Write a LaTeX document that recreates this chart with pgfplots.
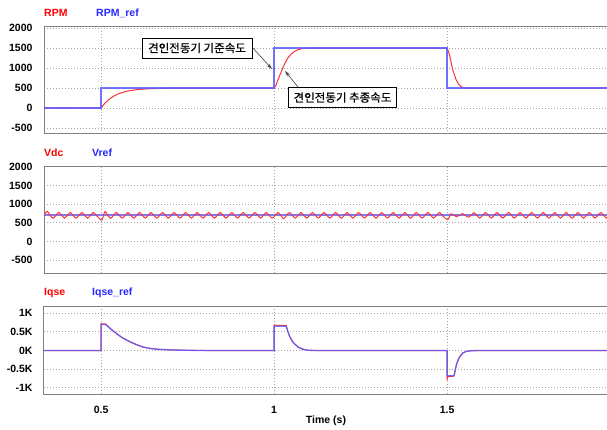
\documentclass[border=0pt]{standalone}
\usepackage{pgfplots}
\pgfplotsset{compat=1.18}
\usepackage{fontspec}
\setmainfont{Liberation Sans}
\newfontfamily\kr[FakeBold=0.6]{Noto Sans CJK KR}
\usetikzlibrary{arrows.meta}
\definecolor{cred}{RGB}{255,50,50}
\definecolor{cblue}{RGB}{90,90,255}
\definecolor{lred}{RGB}{255,0,0}
\definecolor{lblue}{RGB}{40,40,255}
\definecolor{framec}{RGB}{128,128,128}
\definecolor{gridc}{RGB}{165,165,165}
\pgfplotsset{
  panel/.style={
    scale only axis, width=564pt, xmin=0.335, xmax=1.965,
    axis line style={draw=framec, line width=1pt},
    grid=major, major grid style={draw=gridc, line width=0.8pt, dash pattern=on 1pt off 2pt},
    major tick length=0pt, tick style={draw=none},
    xtick={0.5,1,1.5},
    ticklabel style={font=\fontsize{10.5}{12}\selectfont\bfseries},
    yticklabel style={xshift=-8pt},
    xticklabel style={yshift=-8pt},
  }
}
\begin{document}
\begin{tikzpicture}
\useasboundingbox (0pt,0pt) rectangle (607pt,-430pt);
% ---------- top panel ----------
\begin{axis}[panel, at={(44pt,-26.7pt)}, anchor=north west, height=107.3pt,
  ymin=-650, ymax=2040, ytick={-500,0,500,1000,1500,2000},
  yticklabels={-500,0,500,1000,1500,2000}, xticklabels={}]
\addplot[cred, line width=1pt] coordinates {(0.335,0)(0.5,0)(0.51,111)(0.52,197)(0.53,264)(0.54,316)(0.55,357)(0.56,388)(0.58,432)(0.60,459)(0.62,475)(0.64,485)(0.66,491)(0.70,497)(0.75,500)(1.0,500)(1.005,560)(1.01,680)(1.02,900)(1.03,1100)(1.04,1260)(1.05,1360)(1.06,1425)(1.07,1465)(1.08,1488)(1.09,1497)(1.10,1500)(1.5,1500)(1.503,1440)(1.508,1300)(1.515,1000)(1.52,860)(1.526,710)(1.533,600)(1.54,540)(1.547,512)(1.555,502)(1.565,500)(1.965,500)};
\addplot[cblue, line width=1.5pt, opacity=0.85] coordinates {(0.335,0)(0.5,0)(0.5,500)(1.0,500)(1.0,1500)(1.5,1500)(1.5,500)(1.965,500)};
\end{axis}
% ---------- middle panel ----------
\begin{axis}[panel, at={(44pt,-166.7pt)}, anchor=north west, height=106.6pt,
  ymin=-856, ymax=2005, ytick={-500,0,500,1000,1500,2000},
  yticklabels={-500,0,500,1000,1500,2000}, xticklabels={}]
\addplot[cblue!80, line width=2pt] coordinates {(0.335,700)(1.965,700)};
\addplot[cred, line width=1pt, smooth] table {
t v
0.3350 690
0.3443 810
0.3527 700
0.3610 620
0.3693 700
0.3776 780
0.3860 700
0.3943 625
0.4026 700
0.4110 775
0.4193 700
0.4276 625
0.4360 700
0.4443 775
0.4526 700
0.4610 625
0.4693 700
0.4776 775
0.4860 700
0.4943 625
0.5026 575
0.5110 800
0.5193 700
0.5276 620
0.5360 700
0.5443 775
0.5526 700
0.5610 625
0.5693 700
0.5776 775
0.5860 700
0.5943 625
0.6026 700
0.6110 775
0.6193 700
0.6276 625
0.6360 700
0.6443 775
0.6526 700
0.6610 625
0.6693 700
0.6776 775
0.6860 700
0.6943 625
0.7026 700
0.7110 775
0.7193 700
0.7276 625
0.7360 700
0.7443 775
0.7526 700
0.7610 625
0.7693 700
0.7776 775
0.7860 700
0.7943 625
0.8026 700
0.8110 775
0.8193 700
0.8276 625
0.8360 700
0.8443 775
0.8526 700
0.8610 625
0.8693 700
0.8776 775
0.8860 700
0.8943 625
0.9026 700
0.9110 775
0.9193 700
0.9276 625
0.9360 700
0.9443 775
0.9526 700
0.9610 625
0.9693 700
0.9776 775
0.9860 700
0.9943 625
1.0026 690
1.0110 775
1.0193 700
1.0276 605
1.0360 700
1.0443 775
1.0526 700
1.0610 625
1.0693 700
1.0776 775
1.0860 700
1.0943 625
1.1026 700
1.1110 775
1.1193 700
1.1276 625
1.1360 700
1.1443 775
1.1526 700
1.1610 625
1.1693 700
1.1776 775
1.1860 700
1.1943 625
1.2026 700
1.2110 775
1.2193 700
1.2276 625
1.2360 700
1.2443 775
1.2526 700
1.2610 625
1.2693 700
1.2776 775
1.2860 700
1.2943 625
1.3026 700
1.3110 775
1.3193 700
1.3276 625
1.3360 700
1.3443 775
1.3526 700
1.3610 625
1.3693 700
1.3776 775
1.3860 700
1.3943 625
1.4026 700
1.4110 775
1.4193 700
1.4276 625
1.4360 700
1.4443 775
1.4526 700
1.4610 625
1.4693 700
1.4776 775
1.4860 700
1.4943 625
1.5026 590
1.5110 740
1.5193 700
1.5276 665
1.5360 700
1.5443 745
1.5526 700
1.5610 650
1.5693 700
1.5776 770
1.5860 700
1.5943 625
1.6026 700
1.6110 775
1.6193 700
1.6276 625
1.6360 700
1.6443 775
1.6526 700
1.6610 625
1.6693 700
1.6776 775
1.6860 700
1.6943 625
1.7026 700
1.7110 775
1.7193 700
1.7276 625
1.7360 700
1.7443 775
1.7526 700
1.7610 625
1.7693 700
1.7776 775
1.7860 700
1.7943 625
1.8026 700
1.8110 775
1.8193 700
1.8276 625
1.8360 700
1.8443 775
1.8526 700
1.8610 625
1.8693 700
1.8776 775
1.8860 700
1.8943 625
1.9026 700
1.9110 775
1.9193 700
1.9276 625
1.9360 700
1.9443 775
1.9526 700
1.9610 625
1.9693 700
};
\end{axis}
% ---------- bottom panel ----------
\begin{axis}[panel, at={(44pt,-306pt)}, anchor=north west, height=88.3pt,
  ymin=-1177, ymax=1196, ytick={-1000,-500,0,500,1000},
  yticklabels={-1K,-0.5K,0K,0.5K,1K}, xticklabels={0.5,1,1.5}]
\addplot[cred, line width=1pt] coordinates {(0.335,0)(0.5,0)(0.5,720)(0.513,715)(0.53,565)(0.545,455)(0.56,352)(0.58,250)(0.60,168)(0.62,98)(0.64,58)(0.66,36)(0.70,16)(0.75,6)(0.80,0)(1.0,0)(1.0,680)(1.035,675)(1.04,505)(1.045,382)(1.05,290)(1.055,220)(1.06,170)(1.07,90)(1.08,45)(1.09,20)(1.10,5)(1.12,0)(1.5,0)(1.5,-800)(1.502,-700)(1.52,-690)(1.523,-550)(1.527,-380)(1.532,-250)(1.537,-160)(1.545,-70)(1.555,-25)(1.57,-5)(1.6,0)(1.965,0)};
\addplot[cblue, line width=1.3pt, opacity=0.85] coordinates {(0.335,0)(0.5,0)(0.5,700)(0.513,700)(0.53,560)(0.545,450)(0.56,350)(0.58,248)(0.60,166)(0.62,96)(0.64,56)(0.66,35)(0.70,15)(0.75,5)(0.80,0)(1.0,0)(1.0,650)(1.035,650)(1.04,500)(1.045,380)(1.05,290)(1.055,220)(1.06,170)(1.07,90)(1.08,45)(1.09,20)(1.10,5)(1.12,0)(1.5,0)(1.5,-680)(1.52,-680)(1.523,-550)(1.527,-380)(1.532,-250)(1.537,-160)(1.545,-70)(1.555,-25)(1.57,-5)(1.6,0)(1.965,0)};
\end{axis}
% ---------- labels ----------
\begin{scope}[every node/.style={font=\fontsize{10.5}{12}\selectfont\bfseries, inner sep=0pt, anchor=west}]
\node[text=lred] at (44pt,-13pt) {RPM};
\node[text=lblue] at (96pt,-13pt) {RPM\_ref};
\node[text=lred] at (44pt,-153pt) {Vdc};
\node[text=lblue] at (92pt,-153pt) {Vref};
\node[text=lred] at (44pt,-293pt) {Iqse};
\node[text=lblue] at (92pt,-293pt) {Iqse\_ref};
\node[anchor=center] at (326pt,-421pt) {Time (s)};
\end{scope}
% ---------- annotations ----------
\node[draw=black, fill=white, line width=0.7pt, inner sep=0pt, minimum width=110pt, minimum height=20pt, font=\kr\fontsize{11.5}{13}\selectfont] at (197pt,-48pt) {견인전동기 기준속도};
\draw[-{Stealth[length=6pt,width=3.5pt]}, black!75, line width=0.6pt] (252pt,-47pt) -- (272pt,-69pt);
\node[draw=black, fill=white, line width=0.7pt, inner sep=0pt, minimum width=108pt, minimum height=20pt, font=\kr\fontsize{11.5}{13}\selectfont] at (342.5pt,-97.5pt) {견인전동기 추종속도};
\draw[-{Stealth[length=6pt,width=3.5pt]}, black!75, line width=0.6pt] (298pt,-87pt) -- (285pt,-71pt);
\end{tikzpicture}
\end{document}
